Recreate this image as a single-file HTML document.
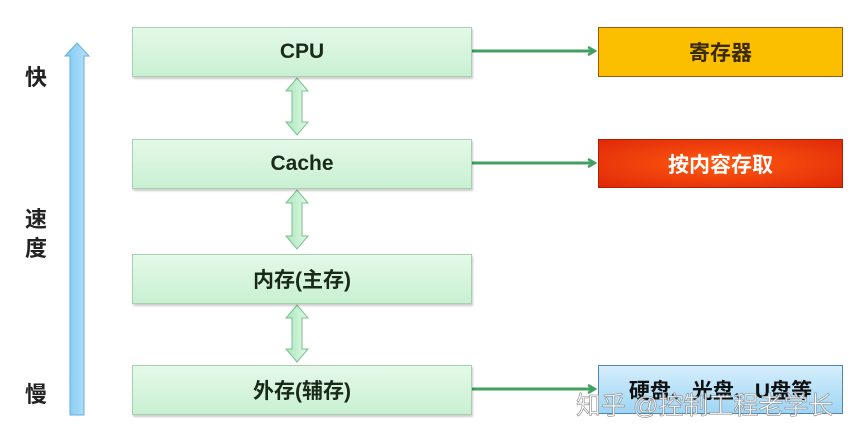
<!DOCTYPE html>
<html><head><meta charset="utf-8"><style>
body{margin:0;width:857px;height:438px;background:#fff;position:relative;overflow:hidden;font-family:"Liberation Sans","Noto Sans CJK SC",sans-serif;}
.b{position:absolute;box-sizing:border-box;display:flex;align-items:center;justify-content:center;font-weight:bold;font-size:21px;color:#1a2a1a;}
.g{left:132px;width:340px;height:50px;background:linear-gradient(#e4f9e8,#c9f0d2);border:1px solid #a8cfb0;box-shadow:1px 2px 2px rgba(0,0,0,.2);}
.lab{position:absolute;left:25px;font-size:22px;font-weight:bold;color:#222;}
</style></head><body>
<div class="lab" style="top:60px">快</div>
<div class="lab" style="top:202px">速</div>
<div class="lab" style="top:231px">度</div>
<div class="lab" style="top:377px">慢</div>
<svg style="position:absolute;left:0;top:0" width="857" height="438">
<defs><linearGradient id="bl" x1="0" x2="1"><stop offset="0" stop-color="#7cc8f2"/><stop offset="1" stop-color="#b9e3fb"/></linearGradient>
<linearGradient id="gr" x1="0" x2="1"><stop offset="0" stop-color="#a8e8bb"/><stop offset="1" stop-color="#e2f8e8"/></linearGradient>
<marker id="ah" markerWidth="10" markerHeight="10" refX="8" refY="5" orient="auto" markerUnits="userSpaceOnUse"><path d="M1,1 L8,5 L1,9" fill="none" stroke="#3fa060" stroke-width="2.5"/></marker></defs>
<path d="M70,415 V56 H65 L77,43 L89,56 H84 V415 Z" fill="url(#bl)" stroke="#6aaed8"/>
<g fill="url(#gr)" stroke="#7cbf8e">
<path d="M292,91 L286,91 L297,78 L308,91 L302,91 L302,122 L308,122 L297,135 L286,122 L292,122 Z"/>
<path d="M292,203 L286,203 L297,190 L308,203 L302,203 L302,236 L308,236 L297,249 L286,236 L292,236 Z"/>
<path d="M292,318 L286,318 L297,305 L308,318 L302,318 L302,349 L308,349 L297,362 L286,349 L292,349 Z"/>
</g>
<g stroke="#3fa060" stroke-width="3" marker-end="url(#ah)">
<line x1="472" y1="51" x2="595" y2="51"/>
<line x1="472" y1="163" x2="595" y2="163"/>
<line x1="472" y1="389" x2="595" y2="389"/>
</g>
</svg>
<div class="b g" style="top:27px">CPU</div>
<div class="b g" style="top:139px">Cache</div>
<div class="b g" style="top:254px">内存(主存)</div>
<div class="b g" style="top:365px">外存(辅存)</div>
<div class="b" style="left:598px;top:27px;width:245px;height:50px;background:#fcbf00;border:1px solid #9a5a10;color:#3a2a00;">寄存器</div>
<div class="b" style="left:598px;top:139px;width:245px;height:49px;background:radial-gradient(ellipse at center,#ff5a10,#e02808);border:1px solid #b02000;color:#fff;">按内容存取</div>
<div class="b" style="left:598px;top:365px;width:245px;height:49px;background:linear-gradient(#d5eefc,#9fd5f4);border:1px solid #4f87b0;color:#111;">硬盘、光盘、U盘等</div>
<div style="position:absolute;left:576px;top:386px;font-size:25px;color:rgba(255,255,255,.85);-webkit-text-stroke:0.6px #888;white-space:nowrap;font-family:'Liberation Sans','Noto Sans CJK SC',sans-serif;">知乎 @控制工程老学长</div>
</body></html>
